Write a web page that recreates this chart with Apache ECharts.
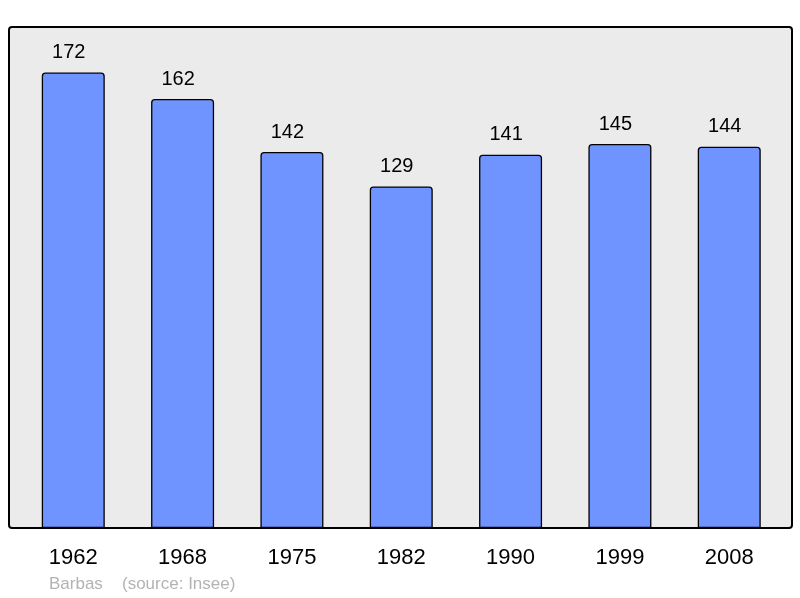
<!DOCTYPE html>
<html>
<head>
<meta charset="utf-8">
<script src="https://cdn.jsdelivr.net/npm/echarts@6/dist/echarts.min.js"></script>
<style>html,body{margin:0;padding:0;background:#fff}#c{width:800px;height:598px}</style>
</head>
<body>
<div id="c"></div>
<script>
const years = ['1962','1968','1975','1982','1990','1999','2008'];
const population = [172, 162, 142, 129, 141, 145, 144];
const footerName = 'Barbas';
const footerSource = '(source: Insee)';

const chart = echarts.init(document.getElementById('c'), null, {renderer: 'canvas'});
chart.setOption({
  animation: false,
  backgroundColor: '#ffffff',
  graphic: [
    {type: 'rect', z: 0, shape: {x: 9, y: 27, width: 783, height: 501, r: 3},
     style: {fill: '#ebebeb', stroke: '#000', lineWidth: 2}},
    {type: 'text', left: 49, top: 576, style: {text: footerName, fill: '#b3b3b3', font: '17px "Liberation Sans", Arial, sans-serif'}},
    {type: 'text', left: 122, top: 576, style: {text: footerSource, fill: '#b3b3b3', font: '17px "Liberation Sans", Arial, sans-serif'}}
  ],
  grid: {left: 18.6, right: 16.1, top: 27, bottom: 70, containLabel: false},
  xAxis: {
    type: 'category', data: years,
    axisLine: {show: false}, axisTick: {show: false},
    axisLabel: {color: '#000', fontSize: 22, fontFamily: '"Liberation Sans", Arial, sans-serif', margin: 19}
  },
  yAxis: {
    type: 'value', min: 0, max: 189.2,
    show: false
  },
  series: [{
    type: 'bar', data: population, barWidth: 63, z: 2,
    itemStyle: {color: '#7094ff', borderColor: '#000', borderWidth: 1.3, borderRadius: [3,3,0,0]},
    label: {show: true, position: 'top', distance: 10, offset: [-4.5, 0], color: '#000', fontSize: 20,
            fontFamily: '"Liberation Sans", Arial, sans-serif'}
  }]
});
</script>
</body>
</html>
